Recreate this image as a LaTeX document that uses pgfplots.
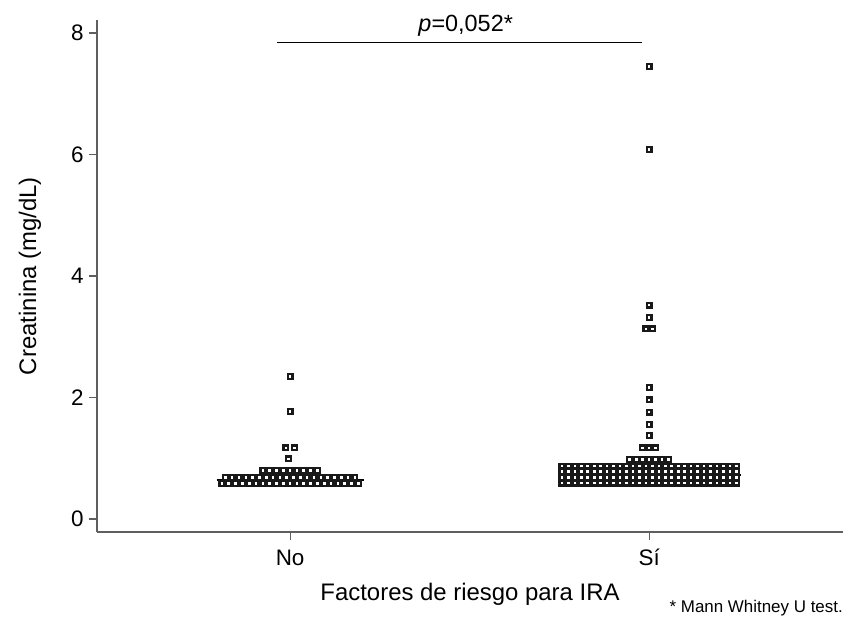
\documentclass[border=0pt]{standalone}
\usepackage{fontspec}
\setmainfont{Liberation Sans}
\usepackage{pgfplots}
\pgfplotsset{compat=1.18}
\definecolor{axisgray}{RGB}{95,95,95}
\definecolor{markdark}{RGB}{25,25,25}

\begin{document}
\begin{tikzpicture}
\useasboundingbox (-97bp,-90bp) rectangle (750bp,532bp);
\begin{axis}[
    width=746bp, height=512bp,
    scale only axis,
    xmin=-0.538, xmax=1.54,
    ymin=-0.214, ymax=8.214,
    axis x line*=bottom, axis y line*=left,
    axis line style={axisgray, line width=1.6bp, -},
    xtick={0,1}, xticklabels={No,Sí},
    ytick={0,2,4,6,8},
    tick align=outside,
    major tick length=8bp,
    tick style={axisgray, line width=1.2bp},
    /pgf/number format/assume math mode=true,
    tick label style={font=\fontsize{22.5}{26}\selectfont},
    xticklabel style={yshift=-6bp, text height=16bp, text depth=0bp},
    yticklabel style={xshift=-2bp},
    xlabel={Factores de riesgo para IRA},
    ylabel={Creatinina (mg/dL)},
    label style={font=\fontsize{24}{28}\selectfont},
    xlabel style={at={(axis description cs:0.5,0)}, anchor=base, yshift=-68bp},
    ylabel style={at={(axis description cs:0,0.5)}, anchor=center, yshift=67bp},
    clip=false,
]
% medianas
\addplot[black, line width=2bp] coordinates {(-0.205,0.64) (0.205,0.64)};
\addplot[black, line width=2bp] coordinates {(0.745,0.72) (1.255,0.72)};

% grupo No
\addplot[only marks, mark=square*, mark size=2.4bp,
    mark options={draw=markdark, fill=white, line width=2.2bp}] coordinates {
 (-0.190,0.58) (-0.171,0.58) (-0.152,0.58) (-0.133,0.58) (-0.114,0.58) (-0.095,0.58) (-0.076,0.58)
 (-0.057,0.58) (-0.038,0.58) (-0.019,0.58) (0.000,0.58) (0.019,0.58) (0.038,0.58) (0.057,0.58)
 (0.076,0.58) (0.095,0.58) (0.114,0.58) (0.133,0.58) (0.152,0.58) (0.171,0.58) (0.190,0.58)
 (-0.1805,0.68) (-0.1615,0.68) (-0.1425,0.68) (-0.1235,0.68) (-0.1045,0.68) (-0.0855,0.68) (-0.0665,0.68)
 (-0.0475,0.68) (-0.0285,0.68) (-0.0095,0.68) (0.0095,0.68) (0.0285,0.68) (0.0475,0.68) (0.0665,0.68)
 (0.0855,0.68) (0.1045,0.68) (0.1235,0.68) (0.1425,0.68) (0.1615,0.68) (0.1805,0.68)
 (-0.076,0.80) (-0.057,0.80) (-0.038,0.80) (-0.019,0.80) (0.000,0.80) (0.019,0.80) (0.038,0.80)
 (0.057,0.80) (0.076,0.80)
 (-0.005,0.99) (-0.012,1.17) (0.012,1.17) (0.0,1.77) (0.0,2.35)
};

% grupo Sí
\addplot[only marks, mark=square*, mark size=2.4bp,
    mark options={draw=markdark, fill=white, line width=2.2bp}] coordinates {
 (0.757,0.59) (0.775,0.59) (0.793,0.59) (0.811,0.59) (0.829,0.59) (0.847,0.59) (0.865,0.59)
 (0.883,0.59) (0.901,0.59) (0.919,0.59) (0.937,0.59) (0.955,0.59) (0.973,0.59) (0.991,0.59)
 (1.009,0.59) (1.027,0.59) (1.045,0.59) (1.063,0.59) (1.081,0.59) (1.099,0.59) (1.117,0.59)
 (1.135,0.59) (1.153,0.59) (1.171,0.59) (1.189,0.59) (1.207,0.59) (1.225,0.59) (1.243,0.59)
 (0.757,0.68) (0.775,0.68) (0.793,0.68) (0.811,0.68) (0.829,0.68) (0.847,0.68) (0.865,0.68)
 (0.883,0.68) (0.901,0.68) (0.919,0.68) (0.937,0.68) (0.955,0.68) (0.973,0.68) (0.991,0.68)
 (1.009,0.68) (1.027,0.68) (1.045,0.68) (1.063,0.68) (1.081,0.68) (1.099,0.68) (1.117,0.68)
 (1.135,0.68) (1.153,0.68) (1.171,0.68) (1.189,0.68) (1.207,0.68) (1.225,0.68) (1.243,0.68)
 (0.757,0.78) (0.775,0.78) (0.793,0.78) (0.811,0.78) (0.829,0.78) (0.847,0.78) (0.865,0.78)
 (0.883,0.78) (0.901,0.78) (0.919,0.78) (0.937,0.78) (0.955,0.78) (0.973,0.78) (0.991,0.78)
 (1.009,0.78) (1.027,0.78) (1.045,0.78) (1.063,0.78) (1.081,0.78) (1.099,0.78) (1.117,0.78)
 (1.135,0.78) (1.153,0.78) (1.171,0.78) (1.189,0.78) (1.207,0.78) (1.225,0.78) (1.243,0.78)
 (0.757,0.87) (0.775,0.87) (0.793,0.87) (0.811,0.87) (0.829,0.87) (0.847,0.87) (0.865,0.87)
 (0.883,0.87) (0.901,0.87) (0.919,0.87) (0.937,0.87) (0.955,0.87) (0.973,0.87) (0.991,0.87)
 (1.009,0.87) (1.027,0.87) (1.045,0.87) (1.063,0.87) (1.081,0.87) (1.099,0.87) (1.117,0.87)
 (1.135,0.87) (1.153,0.87) (1.171,0.87) (1.189,0.87) (1.207,0.87) (1.225,0.87) (1.243,0.87)
 (0.946,0.98) (0.964,0.98) (0.982,0.98) (1.000,0.98) (1.018,0.98) (1.036,0.98) (1.054,0.98)
 (0.982,1.17) (1.000,1.17) (1.018,1.17)
 (1.0,1.37) (1.0,1.56) (1.0,1.76) (1.0,1.96) (1.0,2.16)
 (0.991,3.13) (1.009,3.13) (1.0,3.32) (1.0,3.52)
 (1.0,6.08) (1.0,7.45)
};

% comparacion
\addplot[black, line width=1.2bp] coordinates {(-0.036,7.84) (0.98,7.84)};
\node[font=\fontsize{23.5}{27}\selectfont, anchor=base, inner sep=0pt] at (axis cs:0.489,8.02) {\textit{p}=0,052*};
\end{axis}
\node[anchor=base east, inner sep=0pt, font=\fontsize{17}{20}\selectfont] at (746bp,-80bp) {* Mann Whitney U test.};
\end{tikzpicture}
\end{document}
